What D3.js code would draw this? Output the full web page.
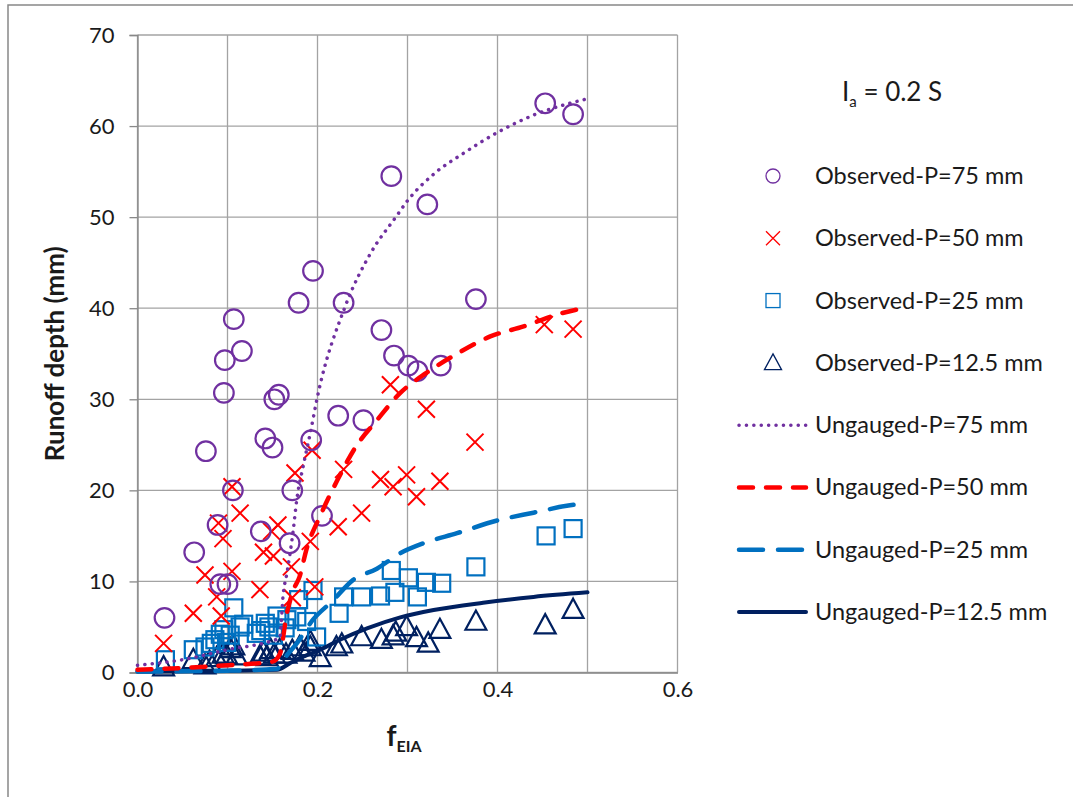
<!DOCTYPE html>
<html lang="en">
<head>
<meta charset="utf-8">
<title>Runoff depth vs fEIA</title>
<script src="https://cdn.jsdelivr.net/npm/d3@7"></script>
<style>
  body { margin: 0; background: #fff; }
  text { font-family: Lato, "Open Sans", sans-serif; fill: #1a1a1a; }
</style>
</head>
<body>
<script>
// observed points [fEIA, runoff mm]
var obs75 = [[0.030,6.0],[0.063,13.2],[0.076,24.3],[0.089,16.2],[0.097,34.3],[0.096,30.7],[0.107,38.8],
  [0.106,20.0],[0.092,9.7],[0.100,9.7],[0.116,35.3],[0.137,15.5],[0.142,25.7],[0.150,24.7],[0.152,30.0],
  [0.157,30.5],[0.172,20.0],[0.169,14.2],[0.179,40.6],[0.195,44.1],[0.193,25.5],[0.205,17.2],[0.223,28.2],
  [0.229,40.6],[0.251,27.7],[0.271,37.6],[0.282,54.5],[0.285,34.8],[0.301,33.7],[0.311,33.1],[0.322,51.4],
  [0.337,33.7],[0.376,41.0],[0.453,62.5],[0.484,61.3]];
var obs50 = [[0.029,3.2],[0.062,6.5],[0.075,10.7],[0.088,8.3],[0.093,6.2],[0.090,16.4],[0.095,14.7],
  [0.105,20.4],[0.105,11.1],[0.114,17.5],[0.136,9.1],[0.140,13.2],[0.151,12.8],[0.149,15.5],[0.156,16.2],
  [0.171,11.6],[0.172,8.2],[0.175,21.9],[0.194,24.4],[0.192,14.4],[0.197,9.4],[0.223,16.0],[0.229,22.3],
  [0.249,17.5],[0.270,21.2],[0.281,31.6],[0.284,20.4],[0.299,21.7],[0.310,19.3],[0.321,28.9],[0.336,21.0],
  [0.375,25.3],[0.452,38.2],[0.484,37.7]];
var obs25 = [[0.031,1.4],[0.062,2.5],[0.075,2.8],[0.082,3.2],[0.086,3.6],[0.092,4.2],[0.096,4.7],
  [0.099,3.3],[0.103,4.1],[0.107,7.1],[0.114,5.0],[0.118,5.3],[0.132,4.3],[0.137,4.6],[0.142,5.4],
  [0.146,5.0],[0.151,4.1],[0.155,6.2],[0.164,4.9],[0.166,5.8],[0.177,6.1],[0.179,8.0],[0.188,5.6],
  [0.195,9.0],[0.199,3.9],[0.224,6.5],[0.229,8.3],[0.249,8.3],[0.270,8.4],[0.282,11.2],[0.286,8.8],
  [0.301,10.4],[0.311,8.3],[0.321,9.9],[0.338,9.8],[0.376,11.6],[0.454,15.0],[0.484,15.8]];
var obs12 = [[0.029,0.6],[0.062,1.4],[0.075,0.8],[0.080,1.2],[0.088,1.6],[0.095,2.0],[0.099,1.9],
  [0.103,2.6],[0.107,2.9],[0.110,1.8],[0.136,1.8],[0.140,2.2],[0.144,1.7],[0.148,2.5],[0.152,2.0],
  [0.158,2.5],[0.165,2.0],[0.172,2.4],[0.180,2.8],[0.185,2.2],[0.192,3.4],[0.192,2.8],[0.203,1.6],
  [0.221,2.8],[0.227,3.1],[0.249,3.9],[0.271,3.6],[0.284,4.0],[0.287,4.4],[0.299,5.0],[0.310,3.8],
  [0.323,3.2],[0.336,4.7],[0.376,5.6],[0.453,5.2],[0.484,6.9]];

// ungauged curves, points
var ung75 = [[0,0.8],[0.05,1.4],[0.10,2.5],[0.15,3.5],[0.158,3.8],[0.162,8.7],[0.166,10.9],[0.173,15.6],
  [0.177,19.0],[0.184,22.6],[0.192,26.3],[0.20,30.3],[0.23,40.0],[0.26,46.2],[0.287,50.0],[0.30,51.8],
  [0.33,54.8],[0.362,57.0],[0.40,59.3],[0.44,61.2],[0.50,63.0]];
var ung50 = [[0,0.3],[0.05,0.5],[0.10,0.8],[0.15,1.2],[0.158,2.0],[0.166,6.5],[0.173,9.0],[0.18,10.5],
  [0.188,13.6],[0.203,17.2],[0.222,21.1],[0.242,24.7],[0.266,27.7],[0.292,30.7],[0.321,32.9],[0.355,35.0],
  [0.392,36.9],[0.429,38.0],[0.466,39.3],[0.50,40.1]];
var ung25 = [[0,0.1],[0.10,0.2],[0.155,0.4],[0.162,1.4],[0.177,3.2],[0.195,5.8],[0.216,7.8],[0.24,10.2],
  [0.266,11.4],[0.292,13.1],[0.318,14.2],[0.355,15.3],[0.40,16.7],[0.44,17.55],[0.477,18.3],[0.50,18.6]];
var ung12 = [[0,0.1],[0.155,0.3],[0.169,1.0],[0.181,1.6],[0.203,2.5],[0.225,3.6],[0.255,4.85],
  [0.292,6.06],[0.329,6.86],[0.384,7.66],[0.44,8.3],[0.50,8.8]];

var xTicks = [0, 0.1, 0.2, 0.3, 0.4, 0.5, 0.6];
var xTickLabels = [0, 0.2, 0.4, 0.6];
var yTicks = [0, 10, 20, 30, 40, 50, 60, 70];
var legendLabels = ["Observed-P=75 mm", "Observed-P=50 mm", "Observed-P=25 mm", "Observed-P=12.5 mm",
  "Ungauged-P=75 mm", "Ungauged-P=50 mm", "Ungauged-P=25 mm", "Ungauged-P=12.5 mm"];

var w = 1073, h = 797;
var purple = "#7030a0", red = "#ff0000", blue = "#0070c0", navy = "#002060";

var svg = d3.select("body").append("svg")
  .attr("width", w).attr("height", h);

// outer frame
svg.append("rect")
  .attr("x", 8).attr("y", 5).attr("width", w).attr("height", h)
  .attr("fill", "none").attr("stroke", "#888").attr("stroke-width", 1.5);

var xScale = d3.scaleLinear().domain([0, 0.6]).range([137.5, 677.5]);
var yScale = d3.scaleLinear().domain([0, 70]).range([672.5, 35]);

// gridlines
svg.append("g").selectAll("line").data(yTicks).enter().append("line")
  .attr("x1", xScale(0)).attr("x2", xScale(0.6))
  .attr("y1", function(d) { return yScale(d); }).attr("y2", function(d) { return yScale(d); })
  .attr("stroke", "#a3a3a3").attr("stroke-width", 1.3);
svg.append("g").selectAll("line").data(xTicks).enter().append("line")
  .attr("y1", yScale(0)).attr("y2", yScale(70))
  .attr("x1", function(d) { return xScale(d); }).attr("x2", function(d) { return xScale(d); })
  .attr("stroke", "#a3a3a3").attr("stroke-width", 1.3);

// axes
var yAxis = svg.append("g").attr("transform", "translate(" + xScale(0) + ",0)")
  .call(d3.axisLeft(yScale).tickValues(yTicks).tickSize(8).tickPadding(15));
var xAxis = svg.append("g").attr("transform", "translate(0," + yScale(0) + ")")
  .call(d3.axisBottom(xScale).tickValues(xTickLabels).tickFormat(d3.format(".1f")).tickSize(0).tickPadding(9));
[yAxis, xAxis].forEach(function(a) {
  a.select(".domain").attr("stroke", "#888").attr("stroke-width", 1.3);
  a.selectAll(".tick line").attr("stroke", "#888").attr("stroke-width", 1.3);
  a.selectAll(".tick text").style("font-family", "Lato, sans-serif").attr("font-size", 22).attr("fill", "#1a1a1a");
});

// axis titles
svg.append("text")
  .attr("transform", "translate(64," + yScale(35) + ") rotate(-90)")
  .attr("text-anchor", "middle").attr("font-size", 26).attr("font-weight", "bold")
  .text("Runoff depth (mm)");
var xt = svg.append("text").attr("x", 404).attr("y", 746)
  .attr("text-anchor", "middle").attr("font-size", 28).attr("font-weight", "bold");
xt.append("tspan").text("f");
xt.append("tspan").attr("dy", 6).attr("font-size", 16).text("EIA");

// lines
var line = d3.line()
  .x(function(d) { return xScale(d[0]); })
  .y(function(d) { return yScale(d[1]); })
  .curve(d3.curveMonotoneX);

var lineStyles = [
  {data: ung75, color: purple, width: 3.5, dash: "0.1,7.3"},
  {data: ung50, color: red, width: 4.5, dash: "14,13"},
  {data: ung25, color: blue, width: 4.5, dash: "24,15"},
  {data: ung12, color: navy, width: 4, dash: null}
];

// marker painters
function drawCircle(g, x, y, r, sw) {
  g.append("circle").attr("cx", x).attr("cy", y).attr("r", r)
    .attr("fill", "none").attr("stroke", purple).attr("stroke-width", sw);
}
function drawCross(g, x, y, s, sw) {
  g.append("path").attr("d", "M" + (x - s) + "," + (y - s) + "L" + (x + s) + "," + (y + s) +
      "M" + (x - s) + "," + (y + s) + "L" + (x + s) + "," + (y - s))
    .attr("stroke", red).attr("stroke-width", sw).attr("fill", "none");
}
function drawSquare(g, x, y, s, sw) {
  g.append("rect").attr("x", x - s).attr("y", y - s).attr("width", 2 * s).attr("height", 2 * s)
    .attr("fill", "none").attr("stroke", blue).attr("stroke-width", sw);
}
function drawTriangle(g, x, y, s, sw) {
  g.append("path").attr("d", "M" + x + "," + (y - s) + "L" + (x + s * 0.95) + "," + (y + s * 0.75) +
      "L" + (x - s * 0.95) + "," + (y + s * 0.75) + "Z")
    .attr("fill", "none").attr("stroke", navy).attr("stroke-width", sw).attr("stroke-linejoin", "miter");
}

var markerSets = [
  {data: obs12, fn: drawTriangle, size: 11, sw: 2.2},
  {data: obs25, fn: drawSquare, size: 8.5, sw: 2.2},
  {data: obs50, fn: drawCross, size: 8.5, sw: 2},
  {data: obs75, fn: drawCircle, size: 9.8, sw: 2.2}
];

var plotG = svg.append("g");
markerSets.forEach(function(m) {
  var g = plotG.append("g");
  m.data.forEach(function(d) { m.fn(g, xScale(d[0]), yScale(d[1]), m.size, m.sw); });
});
lineStyles.slice().reverse().forEach(function(s) {
  plotG.append("path").datum(s.data).attr("d", line)
    .attr("fill", "none").attr("stroke", s.color).attr("stroke-width", s.width)
    .attr("stroke-linecap", "round")
    .attr("stroke-dasharray", s.dash);
});

// legend
var ia = svg.append("text").attr("x", 842).attr("y", 101).attr("font-size", 26);
ia.append("tspan").text("I");
ia.append("tspan").attr("dy", 6).attr("font-size", 15).text("a");
ia.append("tspan").attr("dy", -6).text(" = 0.2 S");

var legY = d3.scalePoint().domain(legendLabels).range([176, 612]);
var leg = svg.append("g");
legendLabels.forEach(function(lab, i) {
  var y = legY(lab);
  if (i === 0) drawCircle(leg, 773, y, 7, 1.3);
  if (i === 1) drawCross(leg, 773, y, 7, 1.3);
  if (i === 2) drawSquare(leg, 773, y, 7, 1.3);
  if (i === 3) drawTriangle(leg, 773, y, 9, 1.3);
  if (i >= 4) {
    var s = lineStyles[i - 4];
    leg.append("line").attr("x1", 739).attr("x2", 806).attr("y1", y).attr("y2", y)
      .attr("stroke", s.color).attr("stroke-width", s.width)
      .attr("stroke-linecap", "round").attr("stroke-dasharray", s.dash);
  }
  leg.append("text").attr("x", 815).attr("y", y + 8).attr("font-size", 23.5).text(lab);
});
</script>
</body>
</html>
